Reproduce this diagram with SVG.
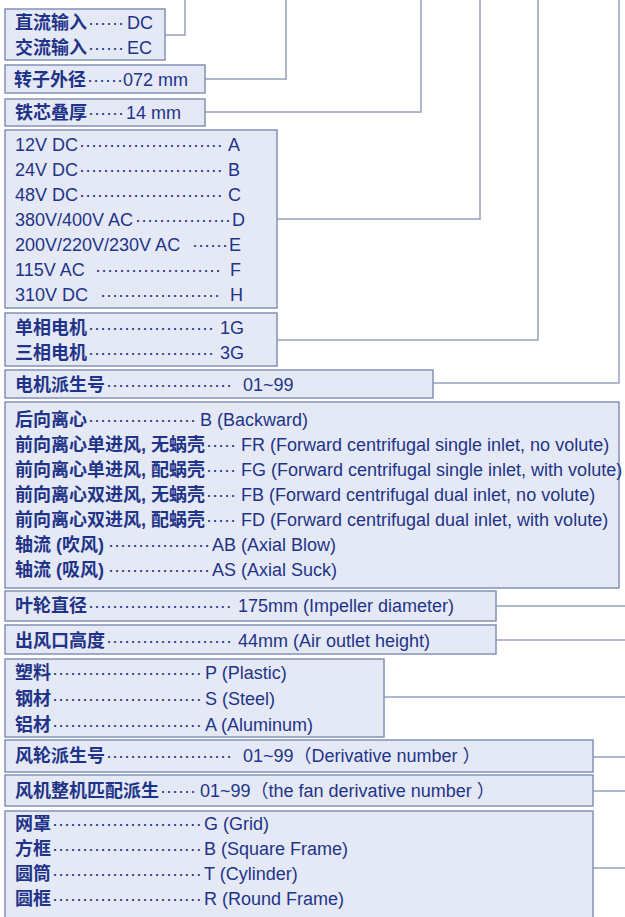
<svg xmlns="http://www.w3.org/2000/svg" width="625" height="917" viewBox="0 0 625 917">
<style>
text{font-family:"Liberation Sans","Noto Sans CJK SC",sans-serif;font-size:18px;fill:#1f3488}
.cn{font-weight:bold}
.box{fill:#e5e9f6;stroke:#8391b6;stroke-width:1.5}
.wire{fill:none;stroke:#95a0bb;stroke-width:1.5}
</style>
<rect width="625" height="917" fill="#ffffff"/>
<g id="connectors">
<path class="wire" d="M165,35H185V0"/>
<path class="wire" d="M205,79H286V0"/>
<path class="wire" d="M205,112H421V0"/>
<path class="wire" d="M277,219H480V0"/>
<path class="wire" d="M277,340H538V0"/>
<path class="wire" d="M433,383H619V0"/>
<path class="wire" d="M496,606H625"/>
<path class="wire" d="M496,640H625"/>
<path class="wire" d="M384,697H625"/>
<path class="wire" d="M593,757H625"/>
<path class="wire" d="M593,791H625"/>
<path class="wire" d="M593,868H625"/>
</g>
<g id="input">
<rect class="box" x="5" y="9" width="160" height="51"/>
<text y="29"><tspan x="15" class="cn">直流输入</tspan><tspan x="88">······</tspan><tspan x="127">DC</tspan></text>
<text y="54"><tspan x="15" class="cn">交流输入</tspan><tspan x="88">······</tspan><tspan x="127">EC</tspan></text>
</g>
<g id="rotor">
<rect class="box" x="5" y="65" width="200" height="28"/>
<text y="86"><tspan x="14" class="cn">转子外径</tspan><tspan x="87">······</tspan><tspan x="123">072 mm</tspan></text>
</g>
<g id="core">
<rect class="box" x="5" y="99" width="200" height="27"/>
<text y="119"><tspan x="15" class="cn">铁芯叠厚</tspan><tspan x="88">······</tspan><tspan x="126">14 mm</tspan></text>
</g>
<g id="voltage">
<rect class="box" x="5" y="130" width="272" height="178"/>
<text y="151"><tspan x="15">12V DC</tspan><tspan x="79">························</tspan><tspan x="228">A</tspan></text>
<text y="176"><tspan x="15">24V DC</tspan><tspan x="79">························</tspan><tspan x="228">B</tspan></text>
<text y="201"><tspan x="15">48V DC</tspan><tspan x="79">························</tspan><tspan x="228">C</tspan></text>
<text y="226"><tspan x="15">380V/400V AC</tspan><tspan x="135">················</tspan><tspan x="232">D</tspan></text>
<text y="251"><tspan x="15">200V/220V/230V AC </tspan><tspan x="192">······</tspan><tspan x="229">E</tspan></text>
<text y="276"><tspan x="15">115V AC </tspan><tspan x="95">·····················</tspan><tspan x="230">F</tspan></text>
<text y="301"><tspan x="15">310V DC </tspan><tspan x="100">····················</tspan><tspan x="230">H</tspan></text>
</g>
<g id="phase">
<rect class="box" x="5" y="313" width="272" height="53"/>
<text y="334"><tspan x="15" class="cn">单相电机</tspan><tspan x="88">·····················</tspan><tspan x="220">1G</tspan></text>
<text y="359"><tspan x="15" class="cn">三相电机</tspan><tspan x="88">·····················</tspan><tspan x="220">3G</tspan></text>
</g>
<g id="motor-derivative">
<rect class="box" x="5" y="370" width="428" height="28"/>
<text y="391"><tspan x="15" class="cn">电机派生号</tspan><tspan x="106">·····················</tspan><tspan x="243">01~99</tspan></text>
</g>
<g id="fan-type">
<rect class="box" x="5" y="402" width="614" height="186"/>
<text y="426"><tspan x="15" class="cn">后向离心</tspan><tspan x="88">··················</tspan><tspan x="200">B (Backward)</tspan></text>
<text y="451"><tspan x="15" class="cn">前向离心单进风, 无蜗壳</tspan><tspan x="206">·····</tspan><tspan x="241">FR (Forward centrifugal single inlet, no volute)</tspan></text>
<text y="476"><tspan x="15" class="cn">前向离心单进风, 配蜗壳</tspan><tspan x="206">·····</tspan><tspan x="241">FG (Forward centrifugal single inlet, with volute)</tspan></text>
<text y="501"><tspan x="15" class="cn">前向离心双进风, 无蜗壳</tspan><tspan x="206">·····</tspan><tspan x="241">FB (Forward centrifugal dual inlet, no volute)</tspan></text>
<text y="526"><tspan x="15" class="cn">前向离心双进风, 配蜗壳</tspan><tspan x="206">·····</tspan><tspan x="241">FD (Forward centrifugal dual inlet, with volute)</tspan></text>
<text y="551"><tspan x="15" class="cn">轴流 (吹风)</tspan><tspan x="108">·················</tspan><tspan x="212">AB (Axial Blow)</tspan></text>
<text y="576"><tspan x="15" class="cn">轴流 (吸风)</tspan><tspan x="108">·················</tspan><tspan x="212">AS (Axial Suck)</tspan></text>
</g>
<g id="impeller">
<rect class="box" x="5" y="591" width="491" height="30"/>
<text y="612"><tspan x="15" class="cn">叶轮直径</tspan><tspan x="88">························</tspan><tspan x="238">175mm (Impeller diameter)</tspan></text>
</g>
<g id="outlet">
<rect class="box" x="5" y="625" width="491" height="29"/>
<text y="647"><tspan x="15" class="cn">出风口高度</tspan><tspan x="106">·····················</tspan><tspan x="238">44mm (Air outlet height)</tspan></text>
</g>
<g id="material">
<rect class="box" x="5" y="659" width="379" height="78"/>
<text y="679"><tspan x="15" class="cn">塑料</tspan><tspan x="52">·························</tspan><tspan x="205">P (Plastic)</tspan></text>
<text y="705"><tspan x="15" class="cn">钢材</tspan><tspan x="52">·························</tspan><tspan x="205">S (Steel)</tspan></text>
<text y="731"><tspan x="15" class="cn">铝材</tspan><tspan x="52">·························</tspan><tspan x="205">A (Aluminum)</tspan></text>
</g>
<g id="wheel-derivative">
<rect class="box" x="5" y="740" width="588" height="32"/>
<text y="762"><tspan x="15" class="cn">风轮派生号</tspan><tspan x="106">·····················</tspan><tspan x="243">01~99（Derivative number ）</tspan></text>
</g>
<g id="fan-derivative">
<rect class="box" x="5" y="775" width="588" height="31"/>
<text y="797"><tspan x="15" class="cn">风机整机匹配派生</tspan><tspan x="160">······</tspan><tspan x="200">01~99（the fan derivative number ）</tspan></text>
</g>
<g id="guard">
<rect class="box" x="5" y="811" width="588" height="120"/>
<text y="830"><tspan x="15" class="cn">网罩</tspan><tspan x="52">·························</tspan><tspan x="204">G (Grid)</tspan></text>
<text y="855"><tspan x="15" class="cn">方框</tspan><tspan x="52">·························</tspan><tspan x="204">B (Square Frame)</tspan></text>
<text y="880"><tspan x="15" class="cn">圆筒</tspan><tspan x="52">·························</tspan><tspan x="204">T (Cylinder)</tspan></text>
<text y="905"><tspan x="15" class="cn">圆框</tspan><tspan x="52">·························</tspan><tspan x="204">R (Round Frame)</tspan></text>
</g>
</svg>
